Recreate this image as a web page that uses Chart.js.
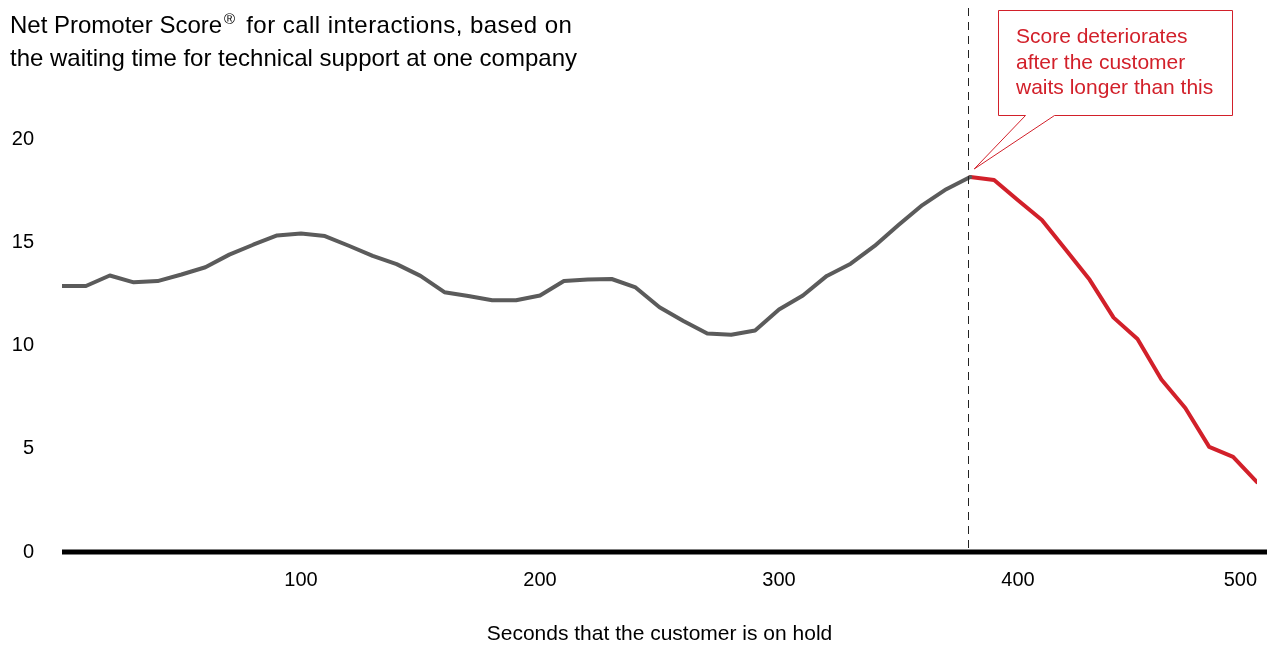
<!DOCTYPE html>
<html>
<head>
<meta charset="utf-8">
<script src="https://cdn.jsdelivr.net/npm/chart.js@4/dist/chart.umd.min.js"></script>
<style>
  html, body { margin: 0; padding: 0; background: #ffffff; }
  #wrap { width: 1267px; height: 645px; position: relative; }
</style>
</head>
<body>
<div id="wrap"><canvas id="c" width="1267" height="645"></canvas></div>
<script>
// ---- data ----
const seconds = [0, 10, 20, 30, 40, 50, 60, 70, 80, 90,
  100, 110, 120, 130, 140, 150, 160, 170, 180, 190,
  200, 210, 220, 230, 240, 250, 260, 270, 280, 290,
  300, 310, 320, 330, 340, 350, 360, 370, 380, 390,
  400, 410, 420, 430, 440, 450, 460, 470, 480, 490, 500];
const npsScores = [12.88, 12.88, 13.39, 13.06, 13.12, 13.44, 13.79, 14.40, 14.88, 15.33,
  15.42, 15.30, 14.83, 14.34, 13.94, 13.37, 12.58, 12.40, 12.19, 12.19,
  12.42, 13.12, 13.20, 13.22, 12.81, 11.85, 11.19, 10.58, 10.52, 10.73,
  11.74, 12.42, 13.37, 13.96, 14.82, 15.83, 16.80, 17.57, 18.16, 18.01,
  17.03, 16.08, 14.64, 13.18, 11.35, 10.31, 8.35, 6.97, 5.09, 4.61, 3.38];
const thresholdSeconds = 380;
const markerSeconds = 379;
const xTickValues = [0, 100, 200, 300, 400, 500];
const xTickLabels = ["", "100", "200", "300", "400", "500"];
const yTickValues = [0, 5, 10, 15, 20];
const titleLines = ["Net Promoter Score", "\u00AE", " for call interactions, based on", "the waiting time for technical support at one company"];
const calloutLines = ["Score deteriorates", "after the customer", "waits longer than this"];
const xAxisTitle = "Seconds that the customer is on hold";

// ---- styles ----
const FONT = "'Liberation Sans', Arial, Helvetica, sans-serif";
const GRAY = '#5b5b5b';
const RED = '#d2202a';

const points = seconds.map((s, i) => ({ x: s, y: npsScores[i] }));
const beforePts = points.filter(p => p.x <= thresholdSeconds);
const afterPts = points.filter(p => p.x >= thresholdSeconds);

const overlay = {
  id: 'overlay',
  afterDatasetsDraw(chart) {
    const ctx = chart.ctx;
    const xs = chart.scales.x, ys = chart.scales.y;
    const area = chart.chartArea;
    ctx.save();
    // zero baseline
    const y0 = ys.getPixelForValue(0);
    ctx.strokeStyle = '#000';
    ctx.lineWidth = 5;
    ctx.beginPath();
    ctx.moveTo(area.left, y0);
    ctx.lineTo(chart.width, y0);
    ctx.stroke();
    // dashed marker
    const mx = Math.round(xs.getPixelForValue(markerSeconds)) + 0.5;
    ctx.strokeStyle = '#222';
    ctx.lineWidth = 1;
    ctx.setLineDash([8, 6]);
    ctx.beginPath();
    ctx.moveTo(mx, 8);
    ctx.lineTo(mx, y0 - 2);
    ctx.stroke();
    ctx.setLineDash([]);
    // callout box
    const idx = seconds.indexOf(thresholdSeconds);
    const tipX = xs.getPixelForValue(thresholdSeconds) + 4;
    const tipY = ys.getPixelForValue(npsScores[idx]) - 8;
    const bx0 = 998.5, by0 = 10.5, bx1 = 1232.5, by1 = 115.5;
    ctx.beginPath();
    ctx.moveTo(bx0, by0);
    ctx.lineTo(bx1, by0);
    ctx.lineTo(bx1, by1);
    ctx.lineTo(1054.5, by1);
    ctx.lineTo(tipX, tipY);
    ctx.lineTo(1025.5, by1);
    ctx.lineTo(bx0, by1);
    ctx.closePath();
    ctx.fillStyle = '#fff';
    ctx.fill();
    ctx.strokeStyle = RED;
    ctx.lineWidth = 1;
    ctx.stroke();
    ctx.fillStyle = RED;
    ctx.font = '21px ' + FONT;
    ctx.textAlign = 'left';
    ctx.textBaseline = 'alphabetic';
    calloutLines.forEach((t, i) => ctx.fillText(t, 1016, 43 + i * 25.5));
    // chart title
    ctx.fillStyle = '#000';
    ctx.font = '24px ' + FONT;
    let x = 10;
    ctx.fillText(titleLines[0], x, 33);
    x += ctx.measureText(titleLines[0]).width;
    ctx.font = '15px ' + FONT;
    ctx.fillText(titleLines[1], x + 2, 24);
    x += ctx.measureText(titleLines[1]).width + 6;
    ctx.font = '24px ' + FONT;
    if ('letterSpacing' in ctx) ctx.letterSpacing = '0.45px';
    ctx.fillText(titleLines[2], x, 33);
    if ('letterSpacing' in ctx) ctx.letterSpacing = '0px';
    ctx.fillText(titleLines[3], 10, 66);
    ctx.restore();
  }
};

new Chart(document.getElementById('c'), {
  type: 'line',
  data: {
    datasets: [
      { data: beforePts, borderColor: GRAY, borderWidth: 4, pointRadius: 0, tension: 0, borderJoinStyle: 'round', borderCapStyle: 'round' },
      { data: afterPts, borderColor: RED, borderWidth: 4, pointRadius: 0, tension: 0, borderJoinStyle: 'round', borderCapStyle: 'round' }
    ]
  },
  options: {
    responsive: false,
    animation: false,
    events: [],
    layout: { padding: { top: 139, right: 10, bottom: 0, left: 0 } },
    plugins: { legend: { display: false }, tooltip: { enabled: false }, title: { display: false } },
    scales: {
      x: {
        type: 'linear', min: 0, max: 500,
        afterBuildTicks: s => { s.ticks = xTickValues.map(v => ({ value: v })); },
        afterFit: s => { s.height = 93; s.paddingLeft = 0; s.paddingRight = 0; },
        grid: { display: false, drawTicks: false },
        border: { display: false },
        ticks: {
          padding: 16, align: 'inner', color: '#000', font: { family: FONT, size: 20 }, maxRotation: 0, autoSkip: false,
          callback: (v) => { const i = xTickValues.indexOf(v); return i >= 0 ? xTickLabels[i] : ''; }
        },
        title: { display: true, text: xAxisTitle, color: '#000', font: { family: FONT, size: 21, lineHeight: 1.0 }, padding: { top: 0, bottom: 0 } }
      },
      y: {
        min: 0, max: 20,
        afterBuildTicks: s => { s.ticks = yTickValues.map(v => ({ value: v })); },
        afterFit: s => { s.width = 62; },
        grid: { display: false, drawTicks: false },
        border: { display: false },
        ticks: { padding: 28, color: '#000', font: { family: FONT, size: 20 } }
      }
    }
  },
  plugins: [overlay]
});
</script>
</body>
</html>
